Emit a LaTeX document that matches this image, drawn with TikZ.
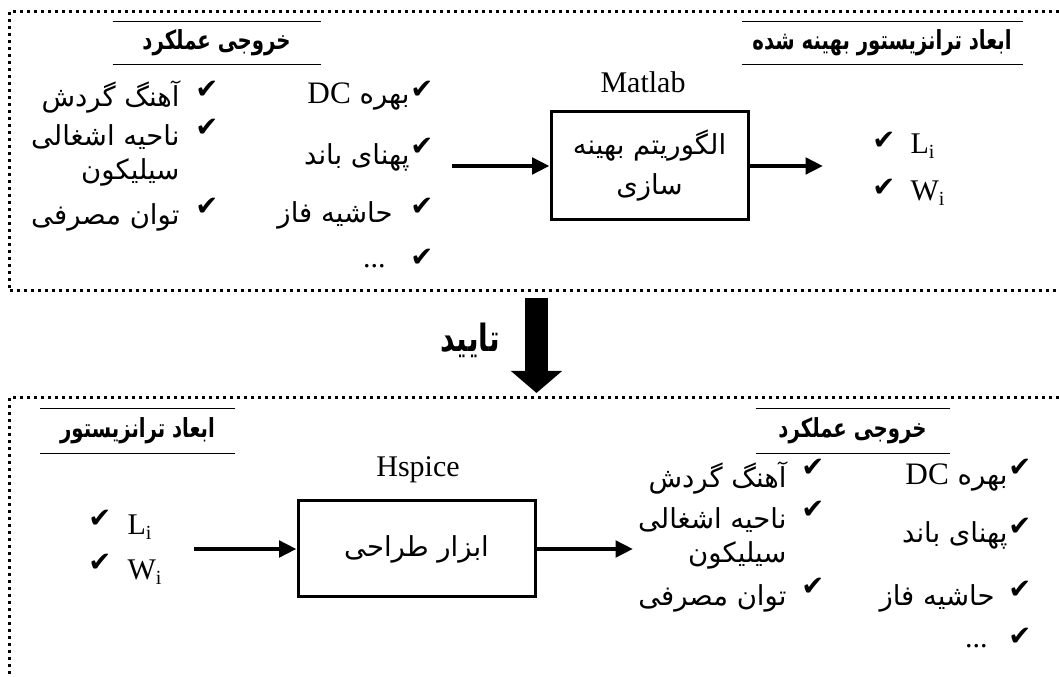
\documentclass[tikz,border=0pt]{standalone}
\usepackage{fontspec}
\setmainfont{Liberation Serif}
\newfontfamily\fa[Script=Arabic]{DejaVu Sans}
\newfontfamily\fab[Script=Arabic,FakeStretch=0.75]{DejaVu Sans Bold}
\newfontfamily\sym{DejaVu Sans}
\usetikzlibrary{arrows.meta}
\TeXXeTstate=1
\newcommand{\fatxt}[1]{{\beginR #1\endR}}
\newcommand{\chk}{{\sym\fontsize{11}{12}\selectfont ✔}}
\newcommand{\idx}{\raisebox{-0.35ex}{\fontsize{8}{9}\selectfont i}}
\tikzset{
  border/.style={line width=1.2pt, dash pattern=on 1.2pt off 1.6pt},
  toolbox/.style={draw, line width=1.2pt, align=center, font=\fa\fontsize{11}{16}\selectfont},
  flow/.style={line width=1.7pt, -{Triangle[length=7pt,width=6.5pt]}},
  tick/.style={inner sep=0pt},
  item/.style={anchor=east, inner sep=0pt, align=right, font=\fa\fontsize{11}{13.6}\selectfont},
  latin/.style={anchor=west, inner sep=0pt, font=\fontsize{12}{14}\selectfont},
  header/.style={inner sep=0pt, font=\fab\fontsize{10.5}{12}\selectfont},
  rule/.style={line width=0.5pt}
}
\begin{document}
\begin{tikzpicture}[x=0.4pt,y=-0.4pt]
\useasboundingbox (0,0) rectangle (1059,677);
% dotted frames
\draw[border] (1059,12) -- (9,12) -- (9,291) -- (1059,291);
\draw[border] (1059,398) -- (9,398) -- (9,677);

% ---------- top part ----------
\node[header, minimum width=82.8pt, minimum height=16.8pt] (outtop) at (216.5,43) {\fatxt{خروجی عملکرد}};
\draw[rule] (outtop.north west) -- (outtop.north east);
\draw[rule] (outtop.south west) -- (outtop.south east);
\node[header, minimum width=112pt, minimum height=16.8pt] (dimtop) at (882,43) {\fatxt{ابعاد ترانزیستور بهینه شده}};
\draw[rule] (dimtop.north west) -- (dimtop.north east);
\draw[rule] (dimtop.south west) -- (dimtop.south east);

\node[tick] (ta1) at (207,90) {\chk};
\node[item] (ia1) at (180,97) {\fatxt{آهنگ گردش}};
\node[tick] (ta2) at (207,128) {\chk};
\node[item] (ia2) at (180,155) {\fatxt{ناحیه اشغالی}\\\fatxt{سیلیکون}};
\node[tick] (ta3) at (207,207) {\chk};
\node[item] (ia3) at (180,217) {\fatxt{توان مصرفی}};

\node[tick] (tb1) at (422,90) {\chk};
\node[item] (ib1) at (410,97) {\fatxt{بهره {\rmfamily\fontsize{12.5}{14}\selectfont DC}}};
\node[tick] (tb2) at (422,147) {\chk};
\node[item] (ib2) at (410,157) {\fatxt{پهنای باند}};
\node[tick] (tb3) at (422,207) {\chk};
\node[item] (ib3) at (393,215) {\fatxt{حاشیه فاز}};
\node[tick] (tb4) at (422,258) {\chk};
\node[item, font=\fontsize{12}{14}\selectfont] (ib4) at (386,266) {...};

\node[font=\fontsize{12}{14}\selectfont] (matlab) at (643,82) {Matlab};
\node[toolbox, minimum width=78.8pt, minimum height=43.2pt] (optim) at (649.5,166) {\fatxt{الگوریتم بهینه}\\\fatxt{سازی}};
\coordinate (intop) at (452,166);
\coordinate (outtopend) at (823,166);
\draw[flow] (intop) -- (optim.west);
\draw[flow] (optim.east) -- (outtopend);

\node[tick] (tl1) at (884,141) {\chk};
\node[latin] (l1) at (910,146) {L\idx};
\node[tick] (tl2) at (884,188) {\chk};
\node[latin] (l2) at (910,193) {W\idx};

% ---------- verify arrow ----------
\coordinate (vtop) at (536.5,298);
\coordinate (vbot) at (536.5,393);
\draw[line width=9.2pt, -{Triangle[length=8.8pt,width=20pt]}] (vtop) -- (vbot);
\node[font=\fab\fontsize{15}{16}\selectfont] (verify) at (470,340) {\fatxt{تایید}};

% ---------- bottom part ----------
\node[header, minimum width=77.2pt, minimum height=17.6pt] (dimbot) at (137.5,431) {\fatxt{ابعاد ترانزیستور}};
\draw[rule] (dimbot.north west) -- (dimbot.north east);
\draw[rule] (dimbot.south west) -- (dimbot.south east);
\node[header, minimum width=77.2pt, minimum height=17.6pt] (outbot) at (852.5,431) {\fatxt{خروجی عملکرد}};
\draw[rule] (outbot.north west) -- (outbot.north east);
\draw[rule] (outbot.south west) -- (outbot.south east);

\node[tick] (sl1) at (100,519) {\chk};
\node[latin] (m1) at (127,527) {L\idx};
\node[tick] (sl2) at (100,563) {\chk};
\node[latin] (m2) at (127,572) {W\idx};

\node[font=\fontsize{12}{14}\selectfont] (hspice) at (418,470) {Hspice};
\node[toolbox, minimum width=94.8pt, minimum height=38.4pt] (design) at (416.5,549) {\fatxt{ابزار طراحی}};
\coordinate (inbot) at (194,549);
\coordinate (outbotend) at (633,549);
\draw[flow] (inbot) -- (design.west);
\draw[flow] (design.east) -- (outbotend);

\node[tick] (sa1) at (813,468) {\chk};
\node[item] (ja1) at (787,478) {\fatxt{آهنگ گردش}};
\node[tick] (sa2) at (813,510) {\chk};
\node[item] (ja2) at (787,538) {\fatxt{ناحیه اشغالی}\\\fatxt{سیلیکون}};
\node[tick] (sa3) at (813,587) {\chk};
\node[item] (ja3) at (787,598) {\fatxt{توان مصرفی}};

\node[tick] (sb1) at (1020,468) {\chk};
\node[item] (jb1) at (1008,478) {\fatxt{بهره {\rmfamily\fontsize{12.5}{14}\selectfont DC}}};
\node[tick] (sb2) at (1020,527) {\chk};
\node[item] (jb2) at (1008,535) {\fatxt{پهنای باند}};
\node[tick] (sb3) at (1020,590) {\chk};
\node[item] (jb3) at (995,598) {\fatxt{حاشیه فاز}};
\node[tick] (sb4) at (1020,637) {\chk};
\node[item, font=\fontsize{12}{14}\selectfont] (jb4) at (988,646) {...};
\end{tikzpicture}
\end{document}
